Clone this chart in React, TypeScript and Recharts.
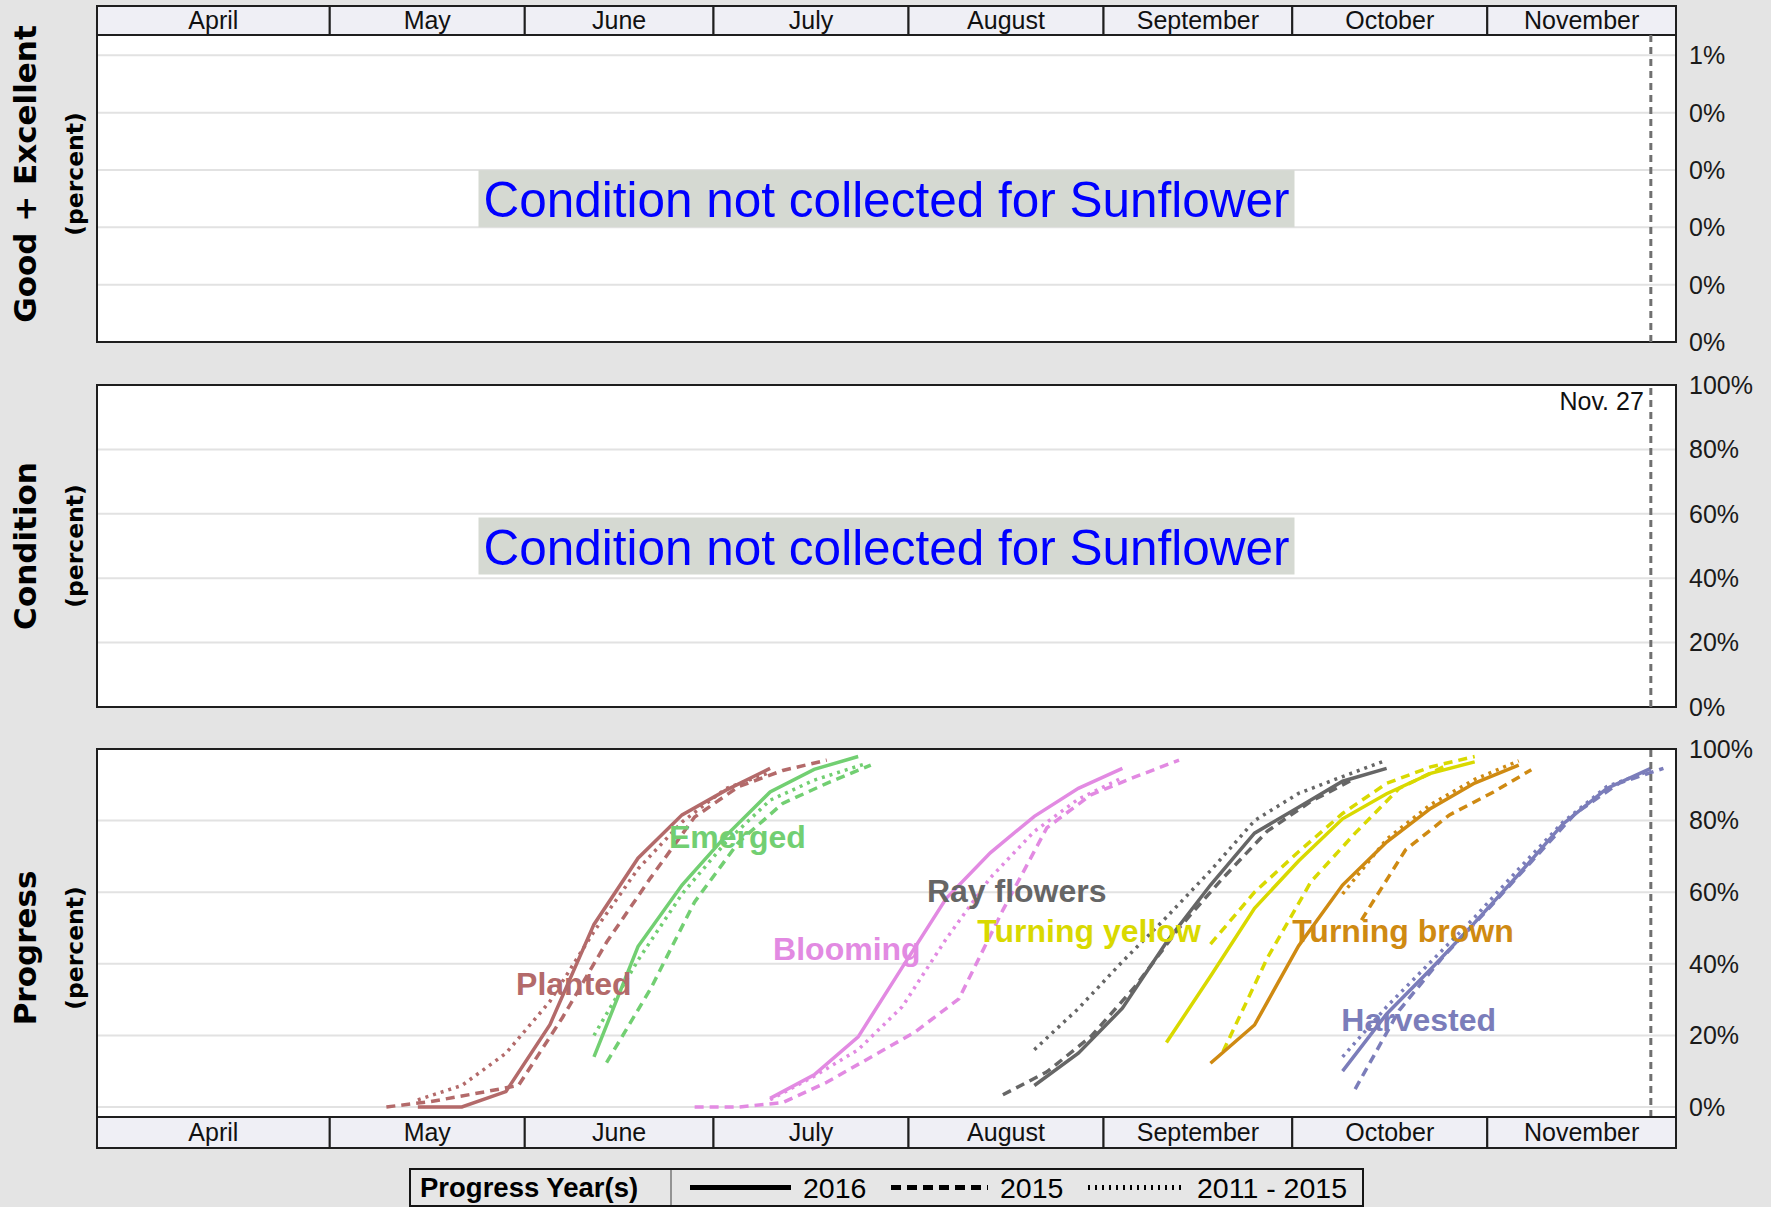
import React from 'react';
import {
  LineChart,
  Line,
  XAxis,
  YAxis,
  CartesianGrid,
  ReferenceLine,
  ReferenceArea,
  ReferenceDot,
} from 'recharts';

type Pt = [number, number];

// ---------- canvas / layout ----------
const W = 1771;
const H = 1207;
const PLOT_LEFT = 97;
const AXIS_W = 95; // right axis width -> plot right edge at 1676
const FONT = "'Liberation Sans', Arial, Helvetica, sans-serif";
const TITLE_FONT = "'DejaVu Sans', Verdana, sans-serif";

// ---------- categories / axes (x = day of year 2016) ----------
const X_DOMAIN: [number, number] = [85, 336];
const MONTH_NAMES = ['April', 'May', 'June', 'July', 'August', 'September', 'October', 'November'];
const MONTH_EDGES = [85, 122, 153, 183, 214, 245, 275, 306, 336];
const MONTH_STARTS = [92, 122, 153, 183, 214, 245, 275, 306];
const CURRENT_DAY = 332;
const CURRENT_LABEL = 'Nov. 27';
const NOTE_TEXT = 'Condition not collected for Sunflower';
const NOTE_DAY = 210.5;

const GE_DOMAIN: [number, number] = [0, 1.071];
const GE_TICKS = [0, 0.2, 0.4, 0.6, 0.8, 1];
const GE_TICK_LABELS = ['0%', '0%', '0%', '0%', '0%', '1%'];
const COND_DOMAIN: [number, number] = [0, 100];
const PROG_DOMAIN: [number, number] = [-2.8, 100];
const PCT_TICKS = [0, 20, 40, 60, 80, 100];
const PCT_TICK_LABELS = ['0%', '20%', '40%', '60%', '80%', '100%'];

// ---------- progress series [day, percent] ----------
const planted2016: Pt[] = [[136, 0], [143, 0], [150, 4.3], [157, 23], [164, 51], [171, 69.5], [178, 81.6], [185, 88.5], [192, 94.6]];
const planted2015: Pt[] = [[131, 0], [138, 1.5], [145, 3.7], [152, 6], [159, 25], [166, 46], [173, 64], [180, 81], [187, 89.5], [194, 94], [201, 96.9]];
const plantedAvg: Pt[] = [[136, 2], [143, 6], [150, 15], [157, 29.5], [164, 49], [171, 66.5], [178, 79.6], [185, 89], [192, 93.5]];

const emerged2016: Pt[] = [[164, 14], [171, 44.8], [178, 62], [185, 75.8], [192, 88], [199, 94.3], [206, 97.9]];
const emerged2015: Pt[] = [[166, 12.4], [173, 33], [180, 57.3], [187, 74], [194, 84.8], [201, 90.4], [208, 95.5]];
const emergedAvg: Pt[] = [[164, 20], [171, 41], [178, 59.5], [185, 74], [192, 85.7], [199, 91.3], [207, 95.8]];

const blooming2016: Pt[] = [[192, 2.4], [199, 9], [206, 19.6], [213, 39], [220, 58.3], [227, 71], [234, 81.2], [241, 89], [248, 94.6]];
const blooming2015: Pt[] = [[180, 0], [187, 0], [194, 1.2], [201, 6.9], [208, 13.9], [215, 20.9], [222, 30.2], [229, 55], [236, 78], [243, 87.2], [250, 92.2], [257, 96.9]];
const bloomingAvg: Pt[] = [[192, 2], [199, 8.6], [206, 16], [213, 28], [220, 47], [227, 64], [234, 77], [241, 86], [248, 92]];

const rayFlowers2016: Pt[] = [[234, 6], [241, 15], [248, 27.6], [255, 46], [262, 62], [269, 76.5], [276, 83.7], [283, 91], [290, 94.6]];
const rayFlowers2015: Pt[] = [[229, 3.4], [236, 9.8], [243, 19.7], [250, 33.6], [257, 50], [264, 64], [271, 77], [278, 85.4], [285, 91.8]];
const rayFlowersAvg: Pt[] = [[234, 16], [241, 27.5], [248, 40.6], [255, 53], [262, 66], [269, 80], [276, 87.6], [283, 92.3], [290, 96.9]];

const turningYellow2016: Pt[] = [[255, 18], [262, 36.5], [269, 55.5], [276, 68.7], [283, 80.5], [290, 87.5], [297, 93.2], [304, 96.4]];
const turningYellow2015: Pt[] = [[262, 45.5], [269, 60], [276, 71.3], [283, 82], [290, 90.4], [297, 95], [304, 97.9]];
const turningYellowAvg: Pt[] = [[264, 15.5], [271, 41.5], [278, 63], [285, 76.5], [292, 89], [299, 95]];

const turningBrown2016: Pt[] = [[262, 12.2], [269, 22.9], [276, 45], [283, 62], [290, 74], [297, 83.4], [304, 90.5], [311, 95.5]];
const turningBrown2015: Pt[] = [[286, 52.2], [293, 71.8], [300, 81.6], [307, 88], [313, 94.2]];
const turningBrownAvg: Pt[] = [[283, 59.5], [290, 74.8], [297, 84.5], [304, 91.5], [311, 96.7]];

const harvested2016: Pt[] = [[283, 10], [290, 26], [297, 38.5], [304, 51.5], [311, 65], [318, 79], [325, 89], [332, 94.6]];
const harvested2015: Pt[] = [[285, 5], [292, 27], [299, 42], [306, 55], [313, 68.5], [320, 82], [327, 90.5], [334, 94.6]];
const harvestedAvg: Pt[] = [[283, 14], [290, 28], [297, 40.5], [304, 53], [311, 66.5], [318, 79.5], [325, 89.5], [332, 94]];

// stage label anchors [day, percent]
const STAGE_NAMES = ['Planted', 'Emerged', 'Blooming', 'Ray flowers', 'Turning yellow', 'Turning brown', 'Harvested'];
const STAGE_COLORS = ['#B36A6A', '#72CF72', '#E28AE2', '#666666', '#D9D900', '#CF8A12', '#7B7DBA'];
const STAGE_LABEL_POS: Pt[] = [[160.8, 34.4], [186.8, 75.4], [204.2, 44.1], [231.2, 60.3], [242.7, 49.2], [292.6, 49.2], [295.1, 24.3]];

const SERIES_2016 = [planted2016, emerged2016, blooming2016, rayFlowers2016, turningYellow2016, turningBrown2016, harvested2016];
const SERIES_2015 = [planted2015, emerged2015, blooming2015, rayFlowers2015, turningYellow2015, turningBrown2015, harvested2015];
const SERIES_AVG = [plantedAvg, emergedAvg, bloomingAvg, rayFlowersAvg, turningYellowAvg, turningBrownAvg, harvestedAvg];
// the late turning-yellow series is drawn dashed in the reference
const DOT = '3 5';
const DASH_2015 = '9 6';
const AVG_DASH = [DOT, DOT, DOT, DOT, DASH_2015, DOT, DOT];
const LINE_W = 3.5;

const toPts = (arr: Pt[]) => arr.map(([x, y]) => ({ x, y }));

// ---------- components ----------
function MonthStrip({ top, height, mTop, mBottom }: { top: number; height: number; mTop: number; mBottom: number }) {
  const data = MONTH_EDGES.map((x) => ({ x, y: 0 }));
  return (
    <div style={{ position: 'absolute', left: 0, top, width: W, height }}>
      <LineChart width={W} height={height} data={data} margin={{ top: mTop, right: AXIS_W, bottom: mBottom, left: PLOT_LEFT }}>
        <XAxis type="number" dataKey="x" domain={X_DOMAIN} allowDataOverflow hide />
        <YAxis type="number" domain={[0, 1]} allowDataOverflow hide />
        {MONTH_NAMES.map((m, i) => (
          <ReferenceArea
            key={m}
            x1={MONTH_EDGES[i]}
            x2={MONTH_EDGES[i + 1]}
            y1={0}
            y2={1}
            ifOverflow="visible"
            fill="#EFEFF5"
            fillOpacity={1}
            stroke="#1E1E1E"
            strokeWidth={2}
            label={{ value: m, position: 'center', fill: '#111111', fontSize: 25, fontFamily: FONT }}
          />
        ))}
      </LineChart>
    </div>
  );
}

const NoteShape = (props: any) => {
  const { cx, cy } = props;
  if (cx == null || cy == null) return null;
  return (
    <g>
      <rect x={cx - 408} y={cy - 28.5} width={816} height={57} fill="#D5D9D2" />
      <text x={cx} y={cy + 1} textAnchor="middle" dominantBaseline="central" fill="#0000FF" fontSize={49.5} fontFamily={FONT}>
        {NOTE_TEXT}
      </text>
    </g>
  );
};

function Panel({
  top,
  height,
  mTop,
  mBottom,
  domain,
  ticks,
  labels,
  showCurrentLabel,
  children,
}: {
  top: number;
  height: number;
  mTop: number;
  mBottom: number;
  domain: [number, number];
  ticks: number[];
  labels: string[];
  showCurrentLabel?: boolean;
  children?: React.ReactNode;
}) {
  return (
    <div style={{ position: 'absolute', left: 0, top, width: W, height }}>
      <LineChart width={W} height={height} margin={{ top: mTop, right: 0, bottom: mBottom, left: PLOT_LEFT }}>
        <CartesianGrid fill="#FFFFFF" fillOpacity={1} stroke="#E2E2E2" strokeWidth={2} />
        <XAxis
          type="number"
          dataKey="x"
          domain={X_DOMAIN}
          ticks={MONTH_STARTS}
          allowDataOverflow
          tick={false}
          tickLine={false}
          axisLine={false}
          height={0}
        />
        <YAxis
          type="number"
          orientation="right"
          width={AXIS_W}
          domain={domain}
          ticks={ticks}
          interval={0}
          allowDataOverflow
          tickFormatter={(v: number) => {
            const i = ticks.findIndex((t) => Math.abs(t - v) < 1e-9);
            return i >= 0 ? labels[i] : '';
          }}
          axisLine={false}
          tickLine={false}
          tickSize={6}
          tickMargin={7}
          tick={{ fill: '#1A1A1A', fontSize: 25, fontFamily: FONT }}
        />
        {children}
        <ReferenceLine
          x={CURRENT_DAY}
          stroke="#707070"
          strokeWidth={3}
          strokeDasharray="7 5"
          ifOverflow="visible"
          label={
            showCurrentLabel
              ? { value: CURRENT_LABEL, position: 'insideTopRight', offset: 7, fill: '#111111', fontSize: 25, fontFamily: FONT }
              : undefined
          }
        />
        <ReferenceArea
          x1={X_DOMAIN[0]}
          x2={X_DOMAIN[1]}
          y1={domain[0]}
          y2={domain[1]}
          ifOverflow="visible"
          fill="none"
          fillOpacity={0}
          stroke="#1E1E1E"
          strokeWidth={2}
        />
      </LineChart>
    </div>
  );
}

function Titles() {
  const titles: { main: string; cy: number }[] = [
    { main: 'Good + Excellent', cy: 174 },
    { main: 'Condition', cy: 546 },
    { main: 'Progress', cy: 948 },
  ];
  return (
    <>
      {titles.map((t) => (
        <g key={t.main}>
          <text
            x={25}
            y={t.cy}
            transform={`rotate(-90 25 ${t.cy})`}
            textAnchor="middle"
            dominantBaseline="central"
            fontFamily={TITLE_FONT}
            fontWeight="bold"
            fontSize={31}
            fill="#000000"
          >
            {t.main}
          </text>
          <text
            x={75}
            y={t.cy}
            transform={`rotate(-90 75 ${t.cy})`}
            textAnchor="middle"
            dominantBaseline="central"
            fontFamily={TITLE_FONT}
            fontWeight="bold"
            fontSize={23.5}
            fill="#000000"
          >
            (percent)
          </text>
        </g>
      ))}
    </>
  );
}

function LegendBox() {
  const cy = 1187.5;
  return (
    <g>
      <rect x={410} y={1169} width={953} height={37} fill="#E6E6E6" stroke="#151515" strokeWidth={2} />
      <text x={420} y={cy} dominantBaseline="central" fontFamily={FONT} fontWeight="bold" fontSize={27.5} fill="#000">
        Progress Year(s)
      </text>
      <line x1={671} y1={1170} x2={671} y2={1205} stroke="#777" strokeWidth={1.5} />
      <line x1={690} y1={cy} x2={791} y2={cy} stroke="#000" strokeWidth={5} />
      <text x={803} y={cy} dominantBaseline="central" fontFamily={FONT} fontSize={28.5} fill="#000">
        2016
      </text>
      <line x1={891} y1={cy} x2={988} y2={cy} stroke="#000" strokeWidth={5} strokeDasharray="10 6" />
      <text x={1000} y={cy} dominantBaseline="central" fontFamily={FONT} fontSize={28.5} fill="#000">
        2015
      </text>
      <line x1={1088} y1={cy} x2={1184} y2={cy} stroke="#000" strokeWidth={5} strokeDasharray="2 5" />
      <text x={1197} y={cy} dominantBaseline="central" fontFamily={FONT} fontSize={28.5} fill="#000">
        2011 - 2015
      </text>
    </g>
  );
}

export default function App() {
  return (
    <div style={{ position: 'absolute', left: 0, top: 0, width: W, height: H, background: '#E4E4E4', overflow: 'hidden' }}>
      <MonthStrip top={0} height={36} mTop={6} mBottom={1} />

      <Panel top={20} height={337} mTop={15} mBottom={15} domain={GE_DOMAIN} ticks={GE_TICKS} labels={GE_TICK_LABELS}>
        <ReferenceDot x={NOTE_DAY} y={0.5} r={0} ifOverflow="visible" shape={NoteShape} />
      </Panel>

      <Panel top={365} height={357} mTop={20} mBottom={15} domain={COND_DOMAIN} ticks={PCT_TICKS} labels={PCT_TICK_LABELS} showCurrentLabel>
        <ReferenceDot x={NOTE_DAY} y={50} r={0} ifOverflow="visible" shape={NoteShape} />
      </Panel>

      <Panel top={729} height={393} mTop={20} mBottom={5} domain={PROG_DOMAIN} ticks={PCT_TICKS} labels={PCT_TICK_LABELS}>
        {STAGE_NAMES.map((name, i) => (
          <ReferenceDot
            key={`lbl-${name}`}
            x={STAGE_LABEL_POS[i][0]}
            y={STAGE_LABEL_POS[i][1]}
            r={0}
            fill="none"
            stroke="none"
            ifOverflow="visible"
            label={{ value: name, position: 'center', fill: STAGE_COLORS[i], fontSize: 32, fontWeight: 700, fontFamily: FONT }}
          />
        ))}
        {STAGE_NAMES.map((name, i) => (
          <Line
            key={`avg-${name}`}
            data={toPts(SERIES_AVG[i])}
            dataKey="y"
            type="linear"
            stroke={STAGE_COLORS[i]}
            strokeWidth={LINE_W}
            strokeDasharray={AVG_DASH[i]}
            dot={false}
            activeDot={false}
            isAnimationActive={false}
          />
        ))}
        {STAGE_NAMES.map((name, i) => (
          <Line
            key={`y15-${name}`}
            data={toPts(SERIES_2015[i])}
            dataKey="y"
            type="linear"
            stroke={STAGE_COLORS[i]}
            strokeWidth={LINE_W}
            strokeDasharray={DASH_2015}
            dot={false}
            activeDot={false}
            isAnimationActive={false}
          />
        ))}
        {STAGE_NAMES.map((name, i) => (
          <Line
            key={`y16-${name}`}
            data={toPts(SERIES_2016[i])}
            dataKey="y"
            type="linear"
            stroke={STAGE_COLORS[i]}
            strokeWidth={LINE_W}
            dot={false}
            activeDot={false}
            isAnimationActive={false}
          />
        ))}
      </Panel>

      <MonthStrip top={1110} height={40} mTop={7} mBottom={2} />

      <svg width={W} height={H} style={{ position: 'absolute', left: 0, top: 0, pointerEvents: 'none' }}>
        <Titles />
        <LegendBox />
      </svg>
    </div>
  );
}
